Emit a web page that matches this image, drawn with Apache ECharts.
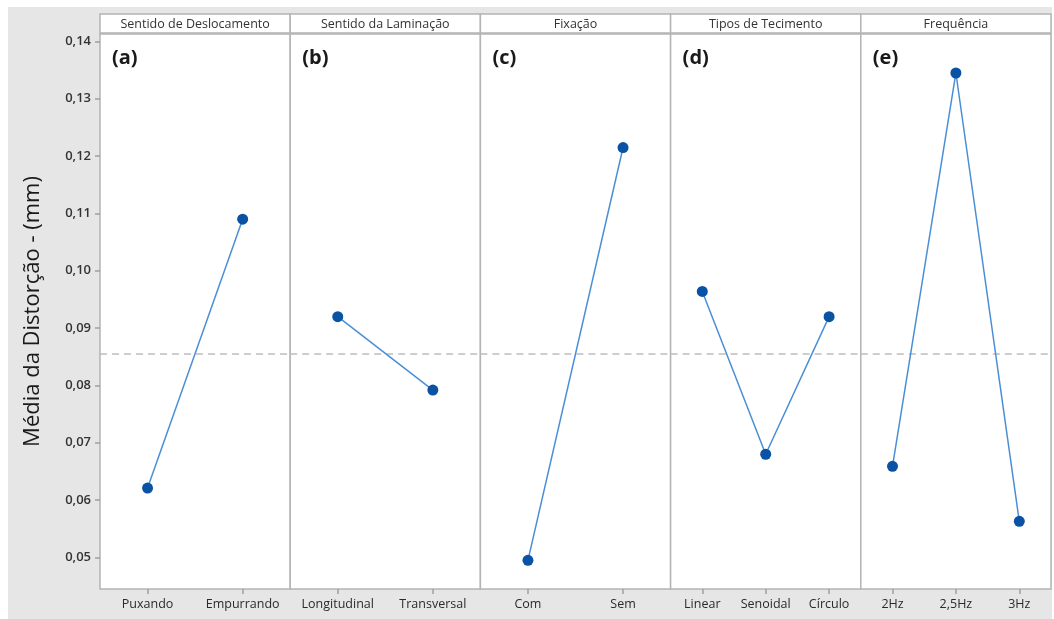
<!DOCTYPE html>
<html>
<head>
<meta charset="utf-8">
<script src="https://cdn.jsdelivr.net/npm/echarts@6/dist/echarts.min.js"></script>
<style>
  html, body { margin: 0; padding: 0; background: #ffffff; }
  #chart { width: 1054px; height: 619px; }
</style>
</head>
<body>
<div id="chart"></div>
<script>
// Main effects plot: mean distortion for each factor level
const panelTitles = ['Sentido de Deslocamento', 'Sentido da Laminação', 'Fixação', 'Tipos de Tecimento', 'Frequência'];
const panelTags = ['(a)', '(b)', '(c)', '(d)', '(e)'];

const deslocamentoLevels = ['Puxando', 'Empurrando'];
const deslocamentoMeans = [0.0621, 0.1090];

const laminacaoLevels = ['Longitudinal', 'Transversal'];
const laminacaoMeans = [0.0920, 0.0792];

const fixacaoLevels = ['Com', 'Sem'];
const fixacaoMeans = [0.0495, 0.1215];

const tecimentoLevels = ['Linear', 'Senoidal', 'Círculo'];
const tecimentoMeans = [0.0964, 0.0680, 0.0920];

const frequenciaLevels = ['2Hz', '2,5Hz', '3Hz'];
const frequenciaMeans = [0.0659, 0.1345, 0.0563];

const grandMean = 0.0855;
const yTicks = [0.05, 0.06, 0.07, 0.08, 0.09, 0.10, 0.11, 0.12, 0.13, 0.14];

const panels = [
  [deslocamentoLevels, deslocamentoMeans],
  [laminacaoLevels, laminacaoMeans],
  [fixacaoLevels, fixacaoMeans],
  [tecimentoLevels, tecimentoMeans],
  [frequenciaLevels, frequenciaMeans]
];

const plotLeft = 100, plotRight = 1051, plotTop = 34, plotBottom = 589;
const panelW = (plotRight - plotLeft) / panels.length;
const FONT = '"Open Sans", "Noto Sans", sans-serif';

const grids = [], xAxes = [], yAxes = [], series = [], graphics = [];

// grey frame behind everything
graphics.push({
  type: 'rect', z: -10, silent: true,
  shape: { x: 8, y: 7, width: 1044, height: 612 },
  style: { fill: '#e6e6e6' }
});

panels.forEach(([levels, means], i) => {
  const left = plotLeft + i * panelW;
  grids.push({
    left: left, top: plotTop, width: panelW, height: plotBottom - plotTop,
    show: true, backgroundColor: '#ffffff', borderColor: '#b4b4b4', borderWidth: 1.5
  });
  xAxes.push({
    type: 'category', gridIndex: i, data: levels, boundaryGap: true,
    axisLine: { show: false },
    axisTick: { show: true, interval: 0, alignWithLabel: true, length: 5, lineStyle: { color: '#a0a0a0', width: 1.5 } },
    axisLabel: { interval: 0, hideOverlap: false, color: '#2a2a2a', fontFamily: FONT, fontSize: 12.5, margin: 9 },
    splitLine: { show: false }
  });
  yAxes.push({
    type: 'value', gridIndex: i, min: 0.0445, max: 0.1413,
    show: i === 0,
    name: i === 0 ? 'Média da Distorção - (mm)' : '',
    nameLocation: 'middle', nameGap: 56,
    nameTextStyle: { fontFamily: FONT, fontSize: 22, color: '#1a1a1a' },
    axisLine: { show: false },
    axisTick: { show: true, length: 5, customValues: yTicks, lineStyle: { color: '#a0a0a0', width: 1.5 } },
    axisLabel: {
      color: '#333', fontFamily: FONT, fontSize: 13, fontWeight: 600, margin: 9,
      customValues: yTicks,
      formatter: v => v.toFixed(2).replace('.', ',')
    },
    splitLine: { show: false }
  });
  series.push({
    type: 'line', xAxisIndex: i, yAxisIndex: i, data: means,
    symbol: 'circle', symbolSize: 11,
    itemStyle: { color: '#0a52a3' },
    lineStyle: { color: '#4a8fd6', width: 1.5 },
    z: 5,
    markLine: {
      silent: true, symbol: 'none', label: { show: false },
      precision: 6,
      lineStyle: { color: '#bdbdbd', type: [7, 5], width: 1.5 },
      data: [{ yAxis: grandMean }],
      z: 1
    }
  });
  // factor header strip
  graphics.push({
    type: 'rect', silent: true,
    shape: { x: left, y: 14, width: panelW, height: 19 },
    style: { fill: '#ffffff', stroke: '#b4b4b4', lineWidth: 1.5 }
  });
  graphics.push({
    type: 'text', silent: true, x: left + panelW / 2, y: 24,
    style: { text: panelTitles[i], fill: '#333', font: '12.5px ' + FONT, textAlign: 'center', textVerticalAlign: 'middle' }
  });
  // panel tag
  graphics.push({
    type: 'text', silent: true, x: left + 12, y: 58, z: 10,
    style: { text: panelTags[i], fill: '#1a1a1a', font: 'bold 20px ' + FONT, textAlign: 'left', textVerticalAlign: 'middle' }
  });
});

const chart = echarts.init(document.getElementById('chart'), null, { renderer: 'canvas' });
chart.setOption({
  backgroundColor: '#ffffff',
  animation: false,
  grid: grids,
  xAxis: xAxes,
  yAxis: yAxes,
  series: series,
  graphic: graphics
});
</script>
</body>
</html>
